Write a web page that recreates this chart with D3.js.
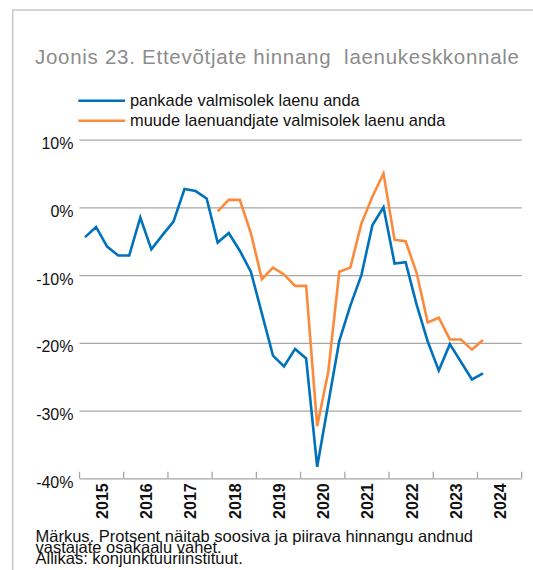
<html>
<head>
	<meta charset="utf-8">
	<title>Joonis 23</title>
	<script src="https://d3js.org/d3.v7.min.js"></script>
	<style>
	body { margin: 0; background: #fff; }
	svg text { font-family: "Liberation Sans", Arial, Helvetica, sans-serif; }
	.grid line { stroke: #a6a6a6; stroke-width: 1.3; }
	.grid .domain { display: none; }
	.line { fill: none; stroke-width: 2.6; }
	</style>
</head>
<body>
	<div id="chart"></div>

	<script>
		// chart data (quarterly, 2015 Q1 .. 2024 Q1)
		var years = [2015, 2016, 2017, 2018, 2019, 2020, 2021, 2022, 2023, 2024];
		var yTicks = [10, 0, -10, -20, -30, -40];
		var seriesNames = ["pankade valmisolek laenu anda", "muude laenuandjate valmisolek laenu anda"];
		var banks = [-4.4, -2.9, -5.8, -7.1, -7.1, -1.5, -6.2, -4.1, -2.1, 2.7, 2.4, 1.3,
		             -5.2, -3.8, -6.4, -9.5, -15.7, -21.9, -23.5, -20.9, -22.3, -38.3, -29.0, -19.7,
		             -14.5, -10.0, -2.6, 0.0, -8.3, -8.1, -14.4, -19.8, -24.1, -20.2, -22.8, -25.4, -24.5];
		var others = [null, null, null, null, null, null, null, null, null, null, null, null,
		              -0.6, 1.1, 1.1, -3.8, -10.6, -8.9, -9.9, -11.6, -11.6, -32.3, -24.3, -9.5,
		              -8.9, -2.4, 1.6, 5.0, -4.8, -5.0, -9.7, -17.0, -16.3, -19.5, -19.5, -21.0, -19.6];
		var colors = ["#0072bc", "#fb8a3c"];

		var quarters = [];
		years.forEach(function(y) {
		  for (var q = 1; q <= 4; q++) quarters.push(y + "Q" + q);
		});

		var svg = d3.select("#chart")
			.append("svg")
			.attr("width", 533)
			.attr("height", 570),
		    margin = {top: 139.6, right: 11.3, bottom: 91.7, left: 79.5},
		    width = +svg.attr("width") - margin.left - margin.right,
		    height = +svg.attr("height") - margin.top - margin.bottom;

		// frame (cut off on the right and bottom)
		svg.append("rect")
		    .attr("x", 12.7).attr("y", 10)
		    .attr("width", 600).attr("height", 600)
		    .attr("fill", "none")
		    .attr("stroke", "#c6c6c6")
		    .attr("stroke-width", 1.5);

		svg.append("text")
		    .attr("x", 35).attr("y", 63.5)
		    .attr("textLength", 484)
		    .attr("lengthAdjust", "spacing")
		    .style("white-space", "pre")
		    .attr("font-size", 20.5)
		    .attr("fill", "#8c8c8c")
		    .text("Joonis 23. Ettevõtjate hinnang  laenukeskkonnale");

		// legend
		var legend = svg.selectAll(".legend")
		    .data(seriesNames)
		    .enter().append("g")
		      .attr("class", "legend")
		      .attr("transform", function(d, i) { return "translate(78.3," + (100.7 + i * 20) + ")"; });
		legend.append("line")
		    .attr("x1", 0).attr("x2", 46.7)
		    .attr("stroke", function(d, i) { return colors[i]; })
		    .attr("stroke-width", 2.6);
		legend.append("text")
		    .attr("x", 51.7)
		    .attr("dy", "0.35em")
		    .attr("font-size", 16.4)
		    .attr("fill", "#111")
		    .text(function(d) { return d; });

		var xYear = d3.scaleBand().domain(years).range([0, width]),
		    xQ = d3.scaleBand().domain(quarters).range([0, width]),
		    y = d3.scaleLinear().domain([-40, 10]).range([height, 0]);

		var g = svg.append("g")
		    .attr("transform", "translate(" + margin.left + "," + margin.top + ")");

		// gridlines + y labels
		g.append("g")
		    .attr("class", "grid")
		    .call(d3.axisLeft(y).tickValues(yTicks).tickSize(-width).tickPadding(6)
		      .tickFormat(function(d) { return d + "%"; }))
		  .selectAll("text")
		    .attr("y", 4)
		    .attr("font-size", 16)
		    .attr("font-family", null)
		    .attr("fill", "#111");

		// x axis: ticks at year boundaries, year labels centred
		var bounds = years.map(function(d) { return xYear(d); }).concat([width]);
		g.selectAll(".xtick")
		    .data(bounds)
		    .enter().append("line")
		      .attr("class", "xtick")
		      .attr("x1", function(d) { return d; })
		      .attr("x2", function(d) { return d; })
		      .attr("y1", height)
		      .attr("y2", height - 6.5)
		      .attr("stroke", "#a6a6a6")
		      .attr("stroke-width", 1.3);

		g.selectAll(".year")
		    .data(years)
		    .enter().append("text")
		      .attr("class", "year")
		      .attr("transform", function(d) {
		        return "translate(" + (xYear(d) + xYear.bandwidth() / 2 + 0.8) + "," + (height + 5) + ") rotate(-90)";
		      })
		      .attr("text-anchor", "end")
		      .attr("dy", "0.35em")
		      .attr("font-size", 16)
		      .attr("font-weight", "bold")
		      .attr("fill", "#111")
		      .text(function(d) { return d; });

		// lines
		[banks, others].forEach(function(vals, k) {
		  var line = d3.line()
		      .defined(function(d) { return d != null; })
		      .x(function(d, i) { return xQ(quarters[i]) + xQ.bandwidth() / 2; })
		      .y(function(d) { return y(d); });
		  g.append("path")
		      .datum(vals)
		      .attr("class", "line")
		      .attr("stroke", colors[k])
		      .attr("d", line);
		});

		// note, one text block with tight line spacing
		var notes = ["Märkus. Protsent näitab soosiva ja piirava hinnangu andnud",
		             "vastajate osakaalu vahet.",
		             "Allikas: konjunktuuriinstituut."];
		svg.append("text")
		    .attr("class", "note")
		    .attr("y", 541.7)
		    .attr("font-size", 16.5)
		    .attr("fill", "#111")
		  .selectAll("tspan")
		    .data(notes)
		    .enter().append("tspan")
		      .attr("x", 35.5)
		      .attr("dy", function(d, i) { return i ? 10.9 : 0; })
		      .text(function(d) { return d; });
	</script>
</body>
</html>
